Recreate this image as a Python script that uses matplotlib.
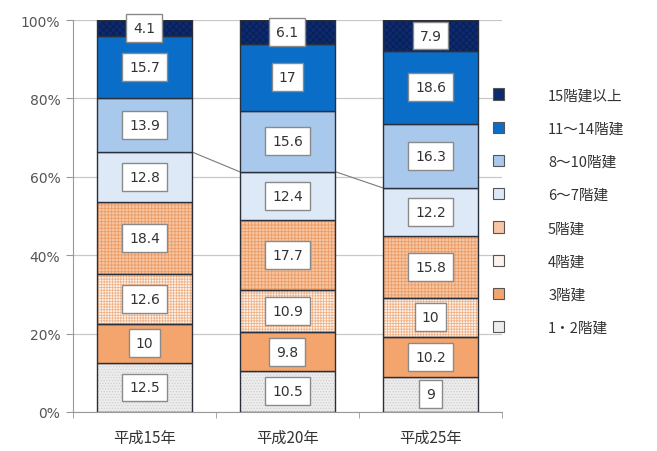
import matplotlib
matplotlib.use("Agg")
import matplotlib.pyplot as plt
import numpy as np
from matplotlib.patches import Patch

plt.rcParams['font.family'] = ['Noto Sans CJK JP', 'DejaVu Sans']

years = ["平成15年", "平成20年", "平成25年"]
# bottom to top
floors = ["1・2階建", "3階建", "4階建", "5階建", "6～7階建", "8～10階建", "11～14階建", "15階建以上"]
values = [
    [12.5, 10.5, 9],
    [10, 9.8, 10.2],
    [12.6, 10.9, 10],
    [18.4, 17.7, 15.8],
    [12.8, 12.4, 12.2],
    [13.9, 15.6, 16.3],
    [15.7, 17, 18.6],
    [4.1, 6.1, 7.9],
]
labels = [
    ["12.5", "10.5", "9"],
    ["10", "9.8", "10.2"],
    ["12.6", "10.9", "10"],
    ["18.4", "17.7", "15.8"],
    ["12.8", "12.4", "12.2"],
    ["13.9", "15.6", "16.3"],
    ["15.7", "17", "18.6"],
    ["4.1", "6.1", "7.9"],
]

# face, hatch, hatch colour
styles = [
    ("#ededed", "......", "#cfcfcf"),
    ("#f4a56e", None, None),
    ("#fdf3ec", "++++++", "#f0b48a"),
    ("#f7c6a3", "+++++", "#ec9c66"),
    ("#dde9f6", None, None),
    ("#a8c8ec", None, None),
    ("#0a6ec8", None, None),
    ("#0c2a6e", "xxxxx", "#0a1d50"),
]

fig = plt.figure(figsize=(6.57, 4.52), dpi=100)
ax = fig.add_axes([0.111, 0.0863, 0.653, 0.8672])

x = np.arange(len(years))
w = 0.67
vals = np.array(values, dtype=float)
totals = vals.sum(axis=0)
pct = vals / totals * 100
bottoms = np.zeros(len(years))
edge = "#2b2f3a"
plt.rcParams['hatch.linewidth'] = 0.6

for i, name in enumerate(floors):
    face, hatch, hcol = styles[i]
    if hatch:
        ax.bar(x, pct[i], w, bottom=bottoms, color=face, edgecolor=hcol,
               hatch=hatch, linewidth=0, zorder=2)
        ax.bar(x, pct[i], w, bottom=bottoms, facecolor="none",
               edgecolor=edge, linewidth=1.0, zorder=3)
    else:
        ax.bar(x, pct[i], w, bottom=bottoms, color=face,
               edgecolor=edge, linewidth=1.0, zorder=3)
    for j in range(len(years)):
        ax.text(x[j], bottoms[j] + pct[i][j] / 2, labels[i][j],
                ha="center", va="center", fontsize=10, color="#333333",
                family=["DejaVu Sans"], zorder=5,
                bbox=dict(boxstyle="square,pad=0.5", facecolor="white",
                          edgecolor="#8a8a8a", linewidth=1.0))
    bottoms = bottoms + pct[i]
    if i == 4:
        # series line between 6~7 and 8~10
        for j in range(len(years) - 1):
            ax.plot([x[j] + w / 2, x[j + 1] - w / 2],
                    [bottoms[j], bottoms[j + 1]],
                    color="#7a7a7a", linewidth=0.8, zorder=1)

ax.set_xlim(-0.5, 2.5)
ax.set_ylim(0, 100)
ax.set_yticks(np.arange(0, 101, 20))
ax.set_yticklabels([f"{v}%" for v in range(0, 101, 20)], fontsize=10, color="#555555",
                   family=["DejaVu Sans"])
ax.set_xticks(x)
ax.set_xticklabels(years, fontsize=11, color="#333333")
ax.set_xticks([-0.5, 0.5, 1.5, 2.5], minor=True)
ax.tick_params(axis="x", which="major", length=0, pad=12)
ax.tick_params(axis="x", which="minor", length=4, color="#999999")
ax.tick_params(axis="y", length=5, color="#999999", pad=4)
ax.grid(axis="y", color="#c8c8c8", linewidth=0.9, zorder=0)
ax.set_axisbelow(True)
for s in ["top", "right"]:
    ax.spines[s].set_visible(False)
ax.spines["left"].set_color("#999999")
ax.spines["bottom"].set_color("#999999")

handles = []
for i in range(len(floors) - 1, -1, -1):
    face, hatch, hcol = styles[i]
    handles.append(Patch(facecolor=face, edgecolor="#555555", linewidth=0.8,
                         label=floors[i]))
fig.legend(handles=handles, loc="center left", bbox_to_anchor=(0.73, 0.53),
           frameon=False, fontsize=10.5, handlelength=0.8, handleheight=0.8,
           labelspacing=1.32, handletextpad=3.0, labelcolor="#333333")

fig.savefig("out.png", dpi=100)
